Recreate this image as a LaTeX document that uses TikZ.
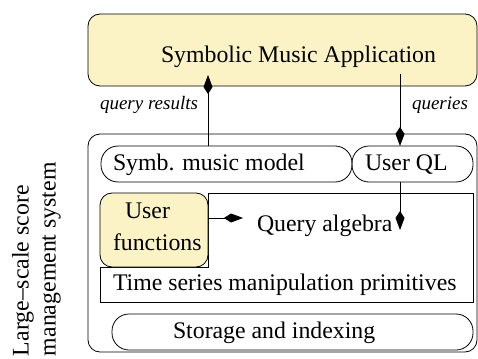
\documentclass[tikz,border=0pt]{standalone}
\usepackage{fontspec}
\setmainfont{Liberation Serif}
\usetikzlibrary{arrows.meta}
\definecolor{appyellow}{RGB}{251,243,197}
\begin{document}
\begin{tikzpicture}[x=1pt,y=-1pt,
  every node/.style={inner sep=0pt, outer sep=0pt},
  lbl/.style={font=\fontsize{23.8}{27}\selectfont, anchor=base west},
  ilbl/.style={font=\fontsize{19}{22}\selectfont\itshape, anchor=base west},
  rbox/.style={draw, line width=0.8pt, rounded corners=#1},
  rbox/.default=17pt,
  arr/.style={-{Kite[length=19pt,width=9pt,inset=7pt]}, line width=0.8pt}]
\useasboundingbox (0,0) rectangle (478,358);
% boxes
\node[rbox=12pt, fill=appyellow, minimum width=389pt, minimum height=72pt] (app) at (282.5,50) {};
\node[rbox=12pt, minimum width=389pt, minimum height=218pt] (lsms) at (282.5,243) {};
\node[rbox, minimum width=251pt, minimum height=36pt] (symb) at (226.5,164) {};
\node[rbox, minimum width=121pt, minimum height=36pt] (uql) at (412.5,164) {};
\draw[line width=0.8pt] (208,193) -- (473,193) -- (473,302) -- (100,302) -- (100,267) -- (208,267) -- cycle;
\node[rbox=12pt, fill=appyellow, minimum width=108pt, minimum height=74pt] (uf) at (154,230) {};
\node[rbox, minimum width=361pt, minimum height=36pt] (stor) at (292.5,332) {};
% texts
\node[lbl] (tapp) at (161,63) {Symbolic Music Application};
\node[ilbl] (tqr) at (100,110) {query results};
\node[ilbl] (tq) at (412,110) {queries};
\node[lbl] (tsymb) at (113,170) {Symb. music model};
\node[lbl] (tuql) at (365,170) {User QL};
\node[lbl] (tuf1) at (125,218) {User};
\node[lbl] (tuf2) at (113,250) {functions};
\node[lbl] (tqa) at (257,231) {Query algebra};
\node[lbl] (tts) at (113,290) {Time series manipulation primitives};
\node[lbl] (tstor) at (173,338) {Storage and indexing};
\node[font=\fontsize{23.8}{27}\selectfont, align=left, rotate=90, anchor=north west] (tlsms) at (12,356) {Large–scale score\\management system};
% connectors
\coordinate (upTip) at (208,75);
\coordinate (appQ) at (400,74);
\coordinate (qaL) at (243,218);
\coordinate (qlTip) at (400,230);
\draw[arr] (symb.north -| upTip) -- (upTip);
\draw[arr] (appQ) -- (uql.north -| appQ);
\draw[arr] (uf.east |- qaL) -- (qaL);
\draw[arr] (uql.south -| qlTip) -- (qlTip);
\end{tikzpicture}
\end{document}
